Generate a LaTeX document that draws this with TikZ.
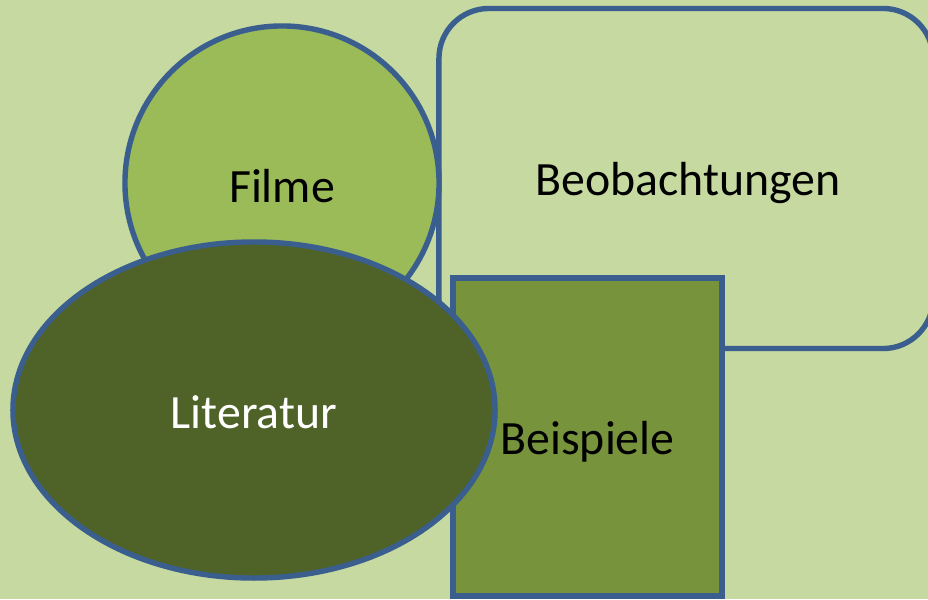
\documentclass[tikz,border=0pt]{standalone}
\usepackage{fontspec}
\setmainfont{Carlito}
\usetikzlibrary{shapes.geometric}

\definecolor{bgGreen}{HTML}{C5D9A0}
\definecolor{filmGreen}{HTML}{9BBB59}
\definecolor{litGreen}{HTML}{4F6228}
\definecolor{bspGreen}{HTML}{77933C}
\definecolor{edgeBlue}{HTML}{3A5F8E}

\begin{document}
\begin{tikzpicture}[
    x=0.025cm, y=-0.025cm,
    every node/.style={font=\fontsize{34}{40}\selectfont, inner sep=0pt},
    area/.style={draw=edgeBlue, line width=0.135cm},
    topic/.style={area, circle, fill=filmGreen, minimum size=7.85cm},
    source/.style={area, rectangle, fill=bgGreen, rounded corners=1.25cm, minimum width=12.35cm, minimum height=8.5cm},
    example/.style={area, rectangle, fill=bspGreen, minimum width=6.725cm, minimum height=7.95cm},
    reading/.style={area, ellipse, fill=litGreen, text=white, minimum width=12.05cm, minimum height=8.4cm}
]
\fill[bgGreen] (0,0) rectangle (928,599);
\useasboundingbox (0,0) rectangle (928,599);
\clip (0,0) rectangle (928,599);

% Gruppen
\node[source] (beob) at (686,178.5) {\raisebox{-1.2mm}[\height][\depth]{\hspace{1mm}Beobachtungen}};
\node[topic] (filme) at (282,183) {\raisebox{-0.8mm}[\height][\depth]{Filme}};
\node[example] (beisp) at (587.5,437) {\raisebox{-1.2mm}[\height][\depth]{Beispiele}};
\node[reading] (lit) at (254,410) {\raisebox{-0.5mm}[\height][\depth]{Literatur}};

\end{tikzpicture}
\end{document}
